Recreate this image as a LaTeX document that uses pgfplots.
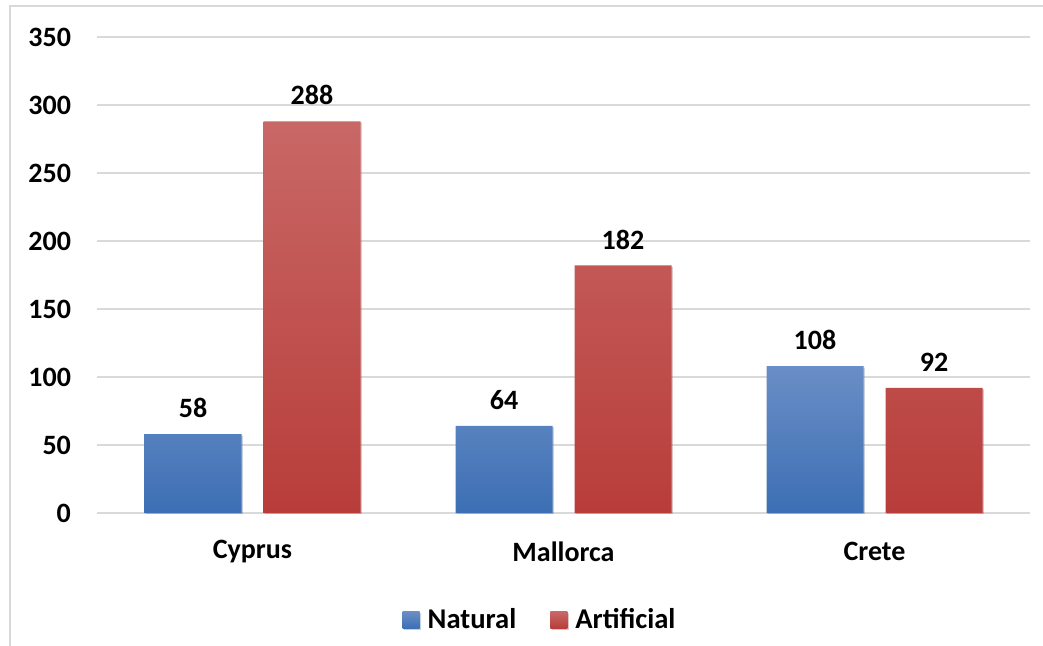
\documentclass[border=0pt]{standalone}
\usepackage{pgfplots}
\pgfplotsset{compat=1.18}
\usetikzlibrary{shadows}
\usepackage{fontspec}
\setmainfont{Carlito}
\definecolor{gridgray}{HTML}{D9D9D9}
\definecolor{btop}{HTML}{6A8EC6}
\definecolor{bmid}{HTML}{4F81BD}
\definecolor{bbot}{HTML}{3C6FB4}
\definecolor{rtop}{HTML}{C86866}
\definecolor{rmid}{HTML}{C0504D}
\definecolor{rbot}{HTML}{B83D3A}
\begin{document}
\begin{tikzpicture}[x=0.5pt,y=0.5pt]
\useasboundingbox (0,0) rectangle (1043,645);
\draw[gridgray, line width=1pt] (10,-20) -- (10,639) -- (1060,639);
\begin{axis}[
  at={(48.5pt,66pt)}, anchor=south west,
  scale only axis, width=466.5pt, height=238pt,
  ybar=11pt, bar width=48.5pt,
  xmin=-0.5, xmax=2.5, ymin=0, ymax=350,
  xtick={0,1,2}, xticklabels={Cyprus,Mallorca,Crete},
  ytick={0,50,...,350},
  axis line style={draw=none}, major tick style={draw=none},
  ymajorgrids, grid style={gridgray, line width=1pt},
  /pgf/number format/assume math mode=true,
  font=\fontsize{14}{16}\selectfont\bfseries,
  yticklabel style={font=\fontsize{14}{16}\selectfont\bfseries, anchor=east, xshift=-9.5pt},
  xticklabel style={font=\fontsize{14}{16}\selectfont\bfseries, anchor=center, yshift=-15pt},
  nodes near coords,
  every node near coord/.append style={font=\fontsize{14}{16}\selectfont\bfseries, anchor=center, yshift=13pt, black},
  legend columns=2,
  legend style={at={(0.476,-0.225)}, anchor=center, draw=none, fill=none,
    font=\fontsize{14.3}{16}\selectfont\bfseries,
    /tikz/every even column/.append style={column sep=15pt}},
  legend image code/.code={\path[#1, draw=none] (0pt,-4.2pt) rectangle (8.5pt,4.2pt); \path (0pt,0pt) -- (10.5pt,0pt);},
]
\addplot[draw=none, top color=btop, middle color=bmid, bottom color=bbot,
  drop shadow={shadow xshift=0.7pt, shadow yshift=-0.7pt, opacity=0.2}] coordinates {(0,58) (1,64) (2,108)};
\addplot[draw=none, top color=rtop, middle color=rmid, bottom color=rbot,
  drop shadow={shadow xshift=0.7pt, shadow yshift=-0.7pt, opacity=0.2}] coordinates {(0,288) (1,182) (2,92)};
\legend{Natural, Artificial}
\end{axis}
\end{tikzpicture}
\end{document}
